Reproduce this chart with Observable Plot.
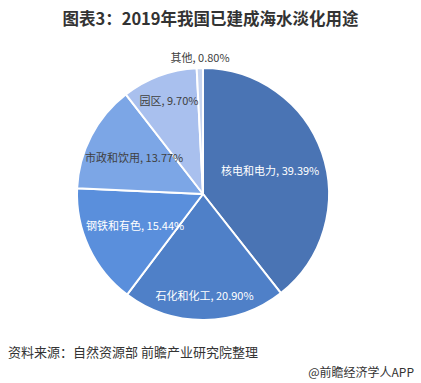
<!DOCTYPE html>
<html><head><meta charset="utf-8">
<script src="https://cdn.jsdelivr.net/npm/d3@7"></script>
<script src="https://cdn.jsdelivr.net/npm/@observablehq/plot@0.6"></script>
<style>
body{margin:0;background:#fff;font-family:"Noto Sans CJK SC","Noto Sans",sans-serif;}
#wrap{width:421px;height:383px;overflow:hidden;position:relative;}
.title{height:36px;line-height:36px;text-align:center;font-weight:bold;font-size:16.5px;color:#333;}
#chart{height:300px;}
.src{margin-top:4px;height:24px;line-height:24px;padding-left:8px;font-size:13px;color:#333;}
.brand{height:18px;line-height:18px;text-align:right;padding-right:7px;font-size:12px;color:#333;margin-top:-1px;}
</style></head><body>
<div id="wrap">
<div class="title">图表3：2019年我国已建成海水淡化用途</div>
<div id="chart"></div>
<div class="src">资料来源：自然资源部 前瞻产业研究院整理</div>
<div class="brand">@前瞻经济学人APP</div>
</div>
<script>
const categories = ["核电和电力","石化和化工","钢铁和有色","市政和饮用","园区","其他"];
const shares = [39.39, 20.90, 15.44, 13.77, 9.70, 0.80];
const shareLabels = ["39.39%","20.90%","15.44%","13.77%","9.70%","0.80%"];

// styles / layout (kept separate from data)
const sliceColors = ["#4a74b4","#4f80c8","#5a8fdc","#7ca6e6","#a9c0ee","#c6d4f0"];
const labelColors = ["#ffffff","#ffffff","#ffffff","#404040","#404040","#404040"];
const labelRadius = [0.56, 0.81, 0.60, 0.62, 0.79, 1.08];

const arcs = d3.pie().sort(null).value(d => d)(shares);
const rows = categories.map((c, i) => {
  const mid = (arcs[i].startAngle + arcs[i].endAngle) / 2;
  return {
    category: c,
    value: shares[i],
    text: `${c}, ${shareLabels[i]}`,
    lx: labelRadius[i] * Math.sin(mid),
    ly: labelRadius[i] * Math.cos(mid),
    tc: labelColors[i]
  };
});

function slices(index, scales) {
  const cx = scales.x(0), cy = scales.y(0), r = scales.x(1) - scales.x(0);
  const g = d3.create("svg:g").attr("transform", `translate(${cx},${cy})`);
  g.selectAll("path").data(arcs).join("path")
    .attr("d", d3.arc().innerRadius(0).outerRadius(r))
    .attr("fill", (d, i) => sliceColors[i])
    .attr("stroke", "#fff")
    .attr("stroke-width", 2)
    .attr("stroke-linejoin", "round");
  return g.node();
}

const chart = Plot.plot({
  width: 421,
  height: 300,
  margin: 0,
  x: {domain: [-1, 1], range: [77, 329], axis: null},
  y: {domain: [-1, 1], range: [284, 32], axis: null},
  style: {fontFamily: '"Noto Sans CJK SC","Noto Sans",sans-serif', background: "#fff"},
  marks: [
    slices,
    Plot.text(rows.filter(d => d.tc === "#ffffff"), {x: "lx", y: "ly", text: "text", fill: "#ffffff", fontSize: 11}),
    Plot.text(rows.filter(d => d.tc !== "#ffffff"), {x: "lx", y: "ly", text: "text", fill: "#404040", fontSize: 11})
  ]
});
document.getElementById("chart").appendChild(chart);
</script>
</body></html>
